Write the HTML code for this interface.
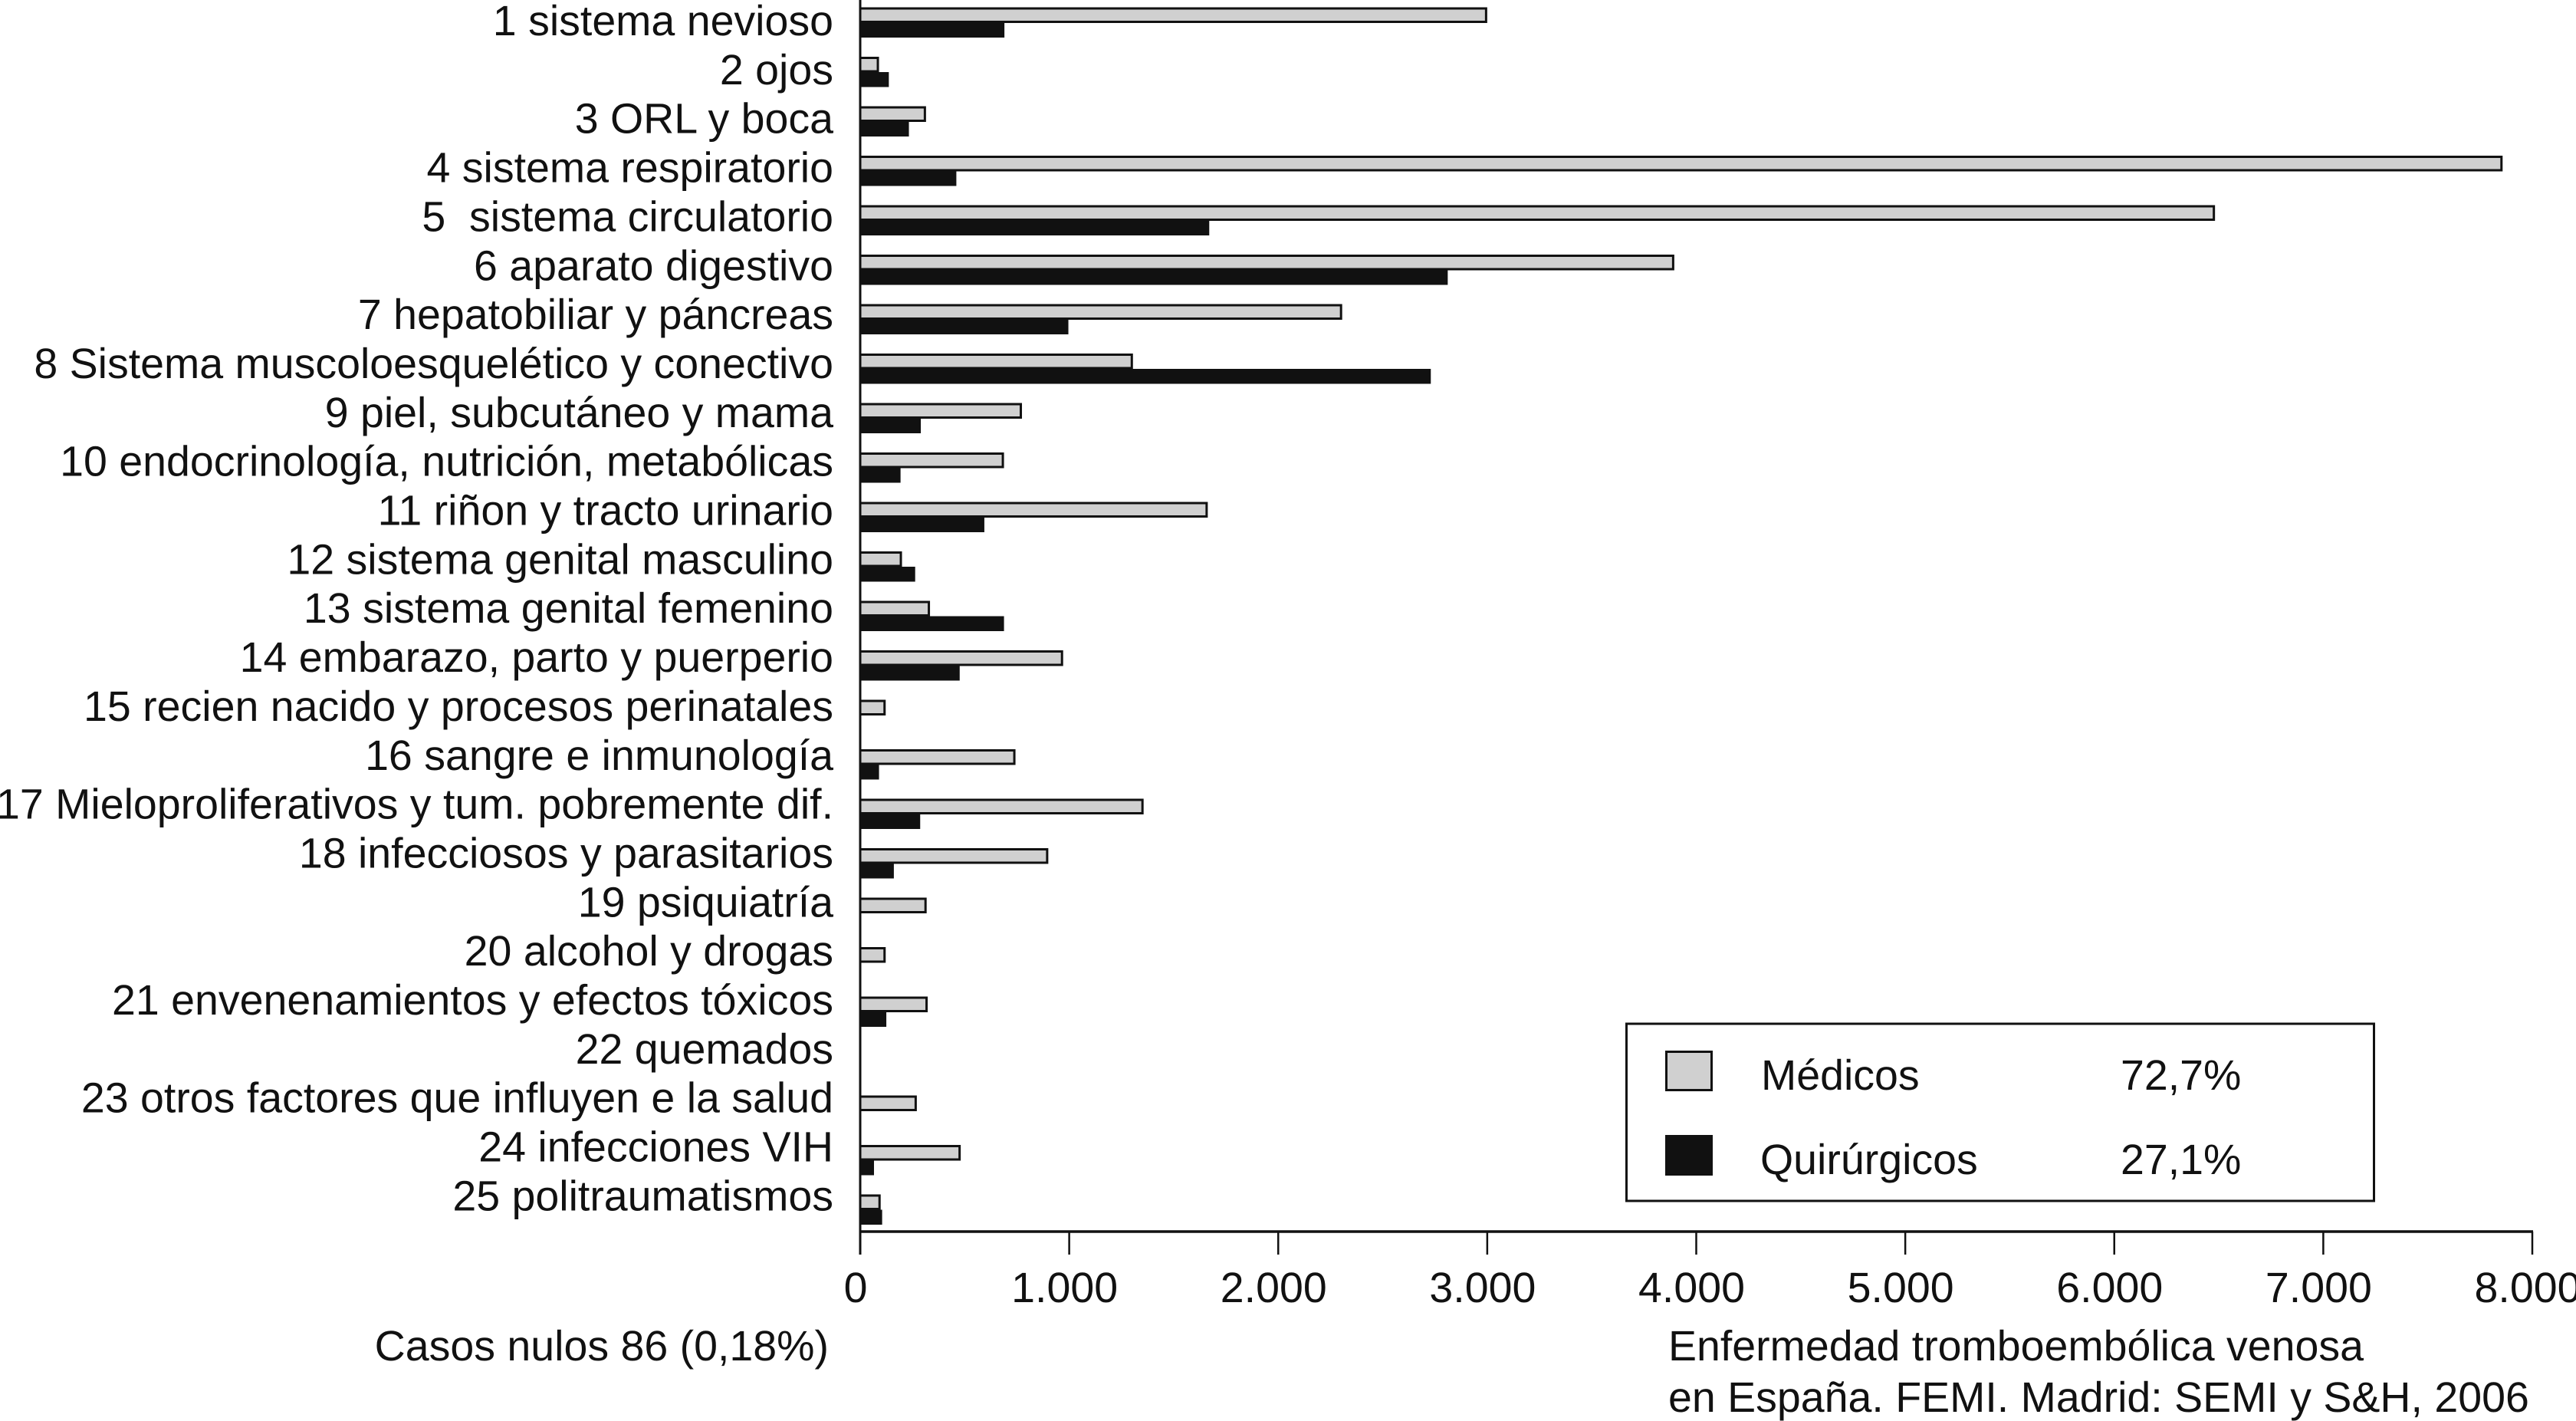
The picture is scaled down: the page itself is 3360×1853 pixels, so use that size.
<!DOCTYPE html>
<html lang="es">
<head>
<meta charset="utf-8">
<title>Enfermedad tromboembólica venosa</title>
<style>
html,body{margin:0;padding:0;background:#fff;}
svg{display:block;}
text{font-family:"Liberation Sans",Arial,sans-serif;font-size:55.5px;fill:#111;white-space:pre;text-rendering:geometricPrecision;}
</style>
</head>
<body>
<svg id="chart" width="3360" height="1853" viewBox="0 0 3360 1853" xmlns="http://www.w3.org/2000/svg">
  <rect width="3360" height="1853" fill="#fff"/>
  <g id="bars"></g>
  <g id="y-labels"></g>
  <g id="x-axis"></g>
  <g id="legend">
    <rect x="2121.5" y="1335" width="975" height="231" fill="#fff" stroke="#111" stroke-width="3"/>
    <rect x="2173.5" y="1371.5" width="59" height="50" fill="#d0d0d0" stroke="#111" stroke-width="3"/>
    <rect x="2172" y="1480" width="62" height="53" fill="#111"/>
    <text x="2297" y="1421">Médicos</text>
    <text x="2766" y="1421">72,7%</text>
    <text x="2296" y="1531">Quirúrgicos</text>
    <text x="2766" y="1531">27,1%</text>
  </g>
  <text x="1081" y="1774" text-anchor="end">Casos nulos 86 (0,18%)</text>
  <text x="2176" y="1774">Enfermedad tromboembólica venosa</text>
  <text x="2176" y="1841">en España. FEMI. Madrid: SEMI y S&amp;H, 2006</text>
</svg>
<script>
const categories = [
  "1 sistema nevioso","2 ojos","3 ORL y boca","4 sistema respiratorio","5  sistema circulatorio",
  "6 aparato digestivo","7 hepatobiliar y páncreas","8 Sistema muscoloesquelético y conectivo",
  "9 piel, subcutáneo y mama","10 endocrinología, nutrición, metabólicas","11 riñon y tracto urinario",
  "12 sistema genital masculino","13 sistema genital femenino","14 embarazo, parto y puerperio",
  "15 recien nacido y procesos perinatales","16 sangre e inmunología",
  "17 Mieloproliferativos y tum. pobremente dif.","18 infecciosos y parasitarios","19 psiquiatría",
  "20 alcohol y drogas","21 envenenamientos y efectos tóxicos","22 quemados",
  "23 otros factores que influyen e la salud","24 infecciones VIH","25 politraumatismos"
];
const medicos = [3000,90,315,7858,6482,3895,2306,1305,774,688,1663,200,334,971,122,743,1356,900,318,122,323,0,271,481,98];
const quirurgicos = [690,137,233,460,1670,2811,996,2730,290,193,594,263,688,476,0,90,287,161,0,0,125,0,0,66,105];
const xTicks = [0,1000,2000,3000,4000,5000,6000,7000,8000];
const xTickLabels = ["0","1.000","2.000","3.000","4.000","5.000","6.000","7.000","8.000"];

const SVGNS = "http://www.w3.org/2000/svg";
const X0 = 1122, X1 = 3303, XMAX = 8000;
function xScale(v){ return X0 + (v / XMAX) * (X1 - X0); }
function rowTop(i){ return 9.5 + i * 64.5; }
function labelBaseline(i){ return 46 + i * 63.85; }
function make(tag, attrs, parent){
  const el = document.createElementNS(SVGNS, tag);
  for (const k in attrs) el.setAttribute(k, attrs[k]);
  parent.appendChild(el);
  return el;
}

const barsG = document.getElementById("bars");
const labelsG = document.getElementById("y-labels");
const axisG = document.getElementById("x-axis");

categories.forEach(function(name, i){
  const lab = make("text", {x: 1087, y: labelBaseline(i), "text-anchor": "end"}, labelsG);
  lab.textContent = name;
  
  

  if (quirurgicos[i] > 0) {
    const b = make("rect", {x: X0, y: rowTop(i) + 20, width: xScale(quirurgicos[i]) - X0, height: 19.5, fill: "#111"}, barsG);
    
    
  }
  if (medicos[i] > 0) {
    const g = make("rect", {x: X0, y: rowTop(i) + 1.5, width: xScale(medicos[i]) - X0 - 1.5, height: 17.5, fill: "#d0d0d0", stroke: "#111", "stroke-width": 3}, barsG);
    
    
  }
});

const yLine = make("line", {x1: X0, x2: X0, y1: 0, y2: 1636, stroke: "#111", "stroke-width": 3}, axisG);


const xLine = make("line", {x1: X0, x2: X1 + 1, y1: 1606, y2: 1606, stroke: "#111", "stroke-width": 3.5}, axisG);



xTicks.forEach(function(v, i){
  const t = make("line", {x1: xScale(v), x2: xScale(v), y1: 1606, y2: 1636, stroke: "#111", "stroke-width": 2.5}, axisG);
  
  
  const l = make("text", {x: xScale(v) - 6, y: 1698, "text-anchor": "middle"}, axisG);
  l.textContent = xTickLabels[i];
  
  
});
</script>
</body>
</html>
